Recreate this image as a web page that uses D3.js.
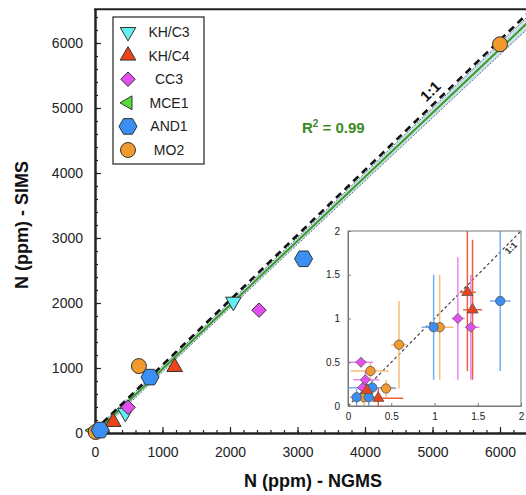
<!DOCTYPE html>
<html><head><meta charset="utf-8">
<script src="https://cdn.jsdelivr.net/npm/d3@7"></script>
<style>body{margin:0;background:#fff}svg{display:block;font-family:"Liberation Sans",Arial,sans-serif}</style>
</head><body>
<svg id="c" width="526" height="495"></svg>
<script>
// ---- data ----
const seriesNames = ["KH/C3", "KH/C4", "CC3", "MCE1", "AND1", "MO2"];
const seriesColors = ["#62eef2", "#ec4319", "#e44ff0", "#5add37", "#3b8ef2", "#f29a2e"];
const seriesShapes = ["triDown", "triUp", "diamond", "triLeft", "hexagon", "circle"];
// main chart points [NGMS, SIMS] in ppm
const khc3 = [[2050, 2020], [450, 310]];
const khc4 = [[1180, 1015], [270, 170]];
const cc3 = [[2430, 1890], [490, 395]];
const mce1 = [[-30, 40]];
const and1 = [[3090, 2680], [815, 860], [75, 45]];
const mo2 = [[6000, 5980], [650, 1030], [10, 15]];
const xTicks = [0, 1000, 2000, 3000, 4000, 5000, 6000];
const yTicks = [0, 1000, 2000, 3000, 4000, 5000, 6000];
const fitSlope = 0.985;
const bandParams = [1500, 45, 0.017]; // centre x, half-width at centre, growth
const r2Label = "0.99";
// inset points [x, y, xlo, xhi, ylo, yhi]
const and1Inset = [[1.76, 1.2, 1.64, 1.88, 0.4, 2.1], [0.99, 0.9, 0.85, 1.1, 0.3, 1.5], [0.28, 0.21, 0.0, 0.55, 0.12, 0.3], [0.1, 0.1, 0.03, 0.2, 0, 0.2], [0.24, 0.1, 0.15, 0.34, 0, 0.2]];
const mo2Inset = [[1.06, 0.9, 0.95, 1.22, 0.3, 1.5], [0.59, 0.7, 0.5, 0.68, 0.2, 1.2], [0.26, 0.4, 0.03, 0.47, 0.3, 0.5], [0.44, 0.2, 0.33, 0.56, 0.1, 0.3], [0.185, 0.1, 0.02, 0.36, 0, 0.2]];
const cc3Inset = [[1.27, 1.0, 1.2, 1.35, 0.3, 1.7], [1.42, 0.9, 1.35, 1.52, 0.3, 1.5], [0.15, 0.5, 0.0, 0.29, 0.45, 0.55], [0.2, 0.3, 0.06, 0.36, 0.2, 0.4], [0.17, 0.21, 0.1, 0.25, 0.1, 0.3]];
const khc4Inset = [[1.38, 1.3, 1.29, 1.48, 0.4, 2.1], [1.44, 1.1, 1.33, 1.55, 0.3, 1.9], [0.35, 0.09, 0.27, 0.64, 0, 0.2], [0.22, 0.18, 0.15, 0.28, 0.1, 0.25]];
const insetTicks = [0, 0.5, 1, 1.5, 2];

// ---- drawing ----
const svg = d3.select("#c");
const colorOf = d3.scaleOrdinal(seriesNames, seriesColors);
const shapeOf = d3.scaleOrdinal(seriesNames, seriesShapes);
function shapePath(shape, r) {
  const p = d3.path();
  const poly = pts => { pts.forEach((q, i) => i ? p.lineTo(q[0], q[1]) : p.moveTo(q[0], q[1])); p.closePath(); };
  const s = Math.sqrt(3) / 2;
  if (shape === "circle") { p.arc(0, 0, r * 0.88, 0, 2 * Math.PI); }
  else if (shape === "triUp") poly([[0, -r], [r * s, r * 0.5], [-r * s, r * 0.5]]);
  else if (shape === "triDown") poly([[0, r], [r * s, -r * 0.5], [-r * s, -r * 0.5]]);
  else if (shape === "triLeft") poly([[-r, 0], [r * 0.5, -r * s], [r * 0.5, r * s]]);
  else if (shape === "diamond") poly([[0, -r * 0.85], [r * 0.85, 0], [0, r * 0.85], [-r * 0.85, 0]]);
  else if (shape === "hexagon") poly(d3.range(6).map(i => [r * Math.cos(i * Math.PI / 3), r * Math.sin(i * Math.PI / 3)]));
  return p.toString();
}

const x = d3.scaleLinear().domain([0, 6450]).range([95, 95 + 6.45 * 67.5]);
const y = d3.scaleLinear().domain([0, 6520]).range([433, 433 - 6.52 * 65]);

svg.append("defs").append("clipPath").attr("id", "plotclip").append("rect")
  .attr("x", x(0)).attr("y", y(6520)).attr("width", x(6450) - x(0)).attr("height", y(0) - y(6520));

// confidence band
const bx = d3.range(0, 6700, 100);
const half = d => Math.sqrt(bandParams[1] ** 2 + (bandParams[2] * (d - bandParams[0])) ** 2);
const gPlot = svg.append("g").attr("clip-path", "url(#plotclip)");
gPlot.append("path").datum(bx)
  .attr("d", d3.area().x(d => x(d)).y0(d => y(fitSlope * d - half(d))).y1(d => y(fitSlope * d + half(d))))
  .attr("fill", "#c9e2ec");
[1, -1].forEach(sg => gPlot.append("path").datum(bx)
  .attr("d", d3.line().x(d => x(d)).y(d => y(fitSlope * d + sg * half(d))))
  .attr("fill", "none").attr("stroke", "#34405e").attr("stroke-width", 0.8).attr("stroke-dasharray", "2,1.5"));
gPlot.append("line").attr("x1", x(0)).attr("y1", y(0)).attr("x2", x(6700)).attr("y2", y(fitSlope * 6700))
  .attr("stroke", "#3c9a25").attr("stroke-width", 2);
gPlot.append("line").attr("x1", x(0)).attr("y1", y(0)).attr("x2", x(6700)).attr("y2", y(6700))
  .attr("stroke", "#111").attr("stroke-width", 2.6).attr("stroke-dasharray", "7,5").attr("transform", "translate(-1,-2)");

// axes
const xMinor = d3.range(0, 6450, 200);
const yMinor = d3.range(0, 6520, 200);
const gx = svg.append("g").attr("transform", `translate(0,${y(0)})`);
gx.call(d3.axisBottom(x).tickValues(xMinor).tickSizeInner(-3).tickSizeOuter(0).tickFormat(""));
gx.call(g => g.append("g").call(d3.axisBottom(x).tickValues(xTicks).tickSizeInner(-6).tickSizeOuter(0).tickPadding(14).tickFormat(d3.format("d"))));
const gy = svg.append("g").attr("transform", `translate(${x(0)},0)`);
gy.call(d3.axisLeft(y).tickValues(yMinor).tickSizeInner(-3).tickSizeOuter(0).tickFormat(""));
gy.call(g => g.append("g").call(d3.axisLeft(y).tickValues(yTicks).tickSizeInner(-6).tickSizeOuter(0).tickPadding(12).tickFormat(d3.format("d"))));
svg.selectAll(".domain").attr("stroke", "#222").attr("stroke-width", 2);
svg.selectAll(".tick line").attr("stroke", "#222").attr("stroke-width", 1.2);
svg.selectAll(".tick text").attr("font-size", 14).attr("fill", "#222").attr("font-family", "Liberation Sans, Arial, sans-serif");
svg.append("line").attr("x1", x(0) - 1).attr("x2", 526).attr("y1", y(6520)).attr("y2", y(6520)).attr("stroke", "#222").attr("stroke-width", 2);

// titles
svg.append("text").attr("x", 313).attr("y", 487).attr("text-anchor", "middle")
  .attr("font-size", 18).attr("font-weight", "bold").attr("fill", "#111").text("N (ppm) - NGMS");
svg.append("text").attr("transform", "translate(28,225) rotate(-90)").attr("text-anchor", "middle")
  .attr("font-size", 18).attr("font-weight", "bold").attr("fill", "#111").text("N (ppm) - SIMS");

// labels on lines
svg.append("text").attr("transform", "translate(434,95) rotate(-44)").attr("text-anchor", "middle")
  .attr("font-size", 15).attr("font-weight", "bold").attr("fill", "#111").text("1:1");
const r2 = svg.append("text").attr("x", 302).attr("y", 133).attr("font-size", 15).attr("font-weight", "bold").attr("fill", "#3c8a1f");
r2.append("tspan").text("R");
r2.append("tspan").attr("font-size", 10).attr("dy", -6).text("2");
r2.append("tspan").attr("dy", 6).text(" = " + r2Label);

// main points
const mainSets = [[khc3, "KH/C3"], [khc4, "KH/C4"], [cc3, "CC3"], [mce1, "MCE1"], [mo2, "MO2"], [and1, "AND1"]];
const mainR = {"circle": 8.5, "triUp": 9, "triDown": 9, "triLeft": 8, "diamond": 8.5, "hexagon": 9};
mainSets.forEach(([data, name]) => {
  svg.append("g").selectAll("path").data(data).join("path")
    .attr("transform", d => `translate(${x(d[0])},${y(d[1])})`)
    .attr("d", shapePath(shapeOf(name), mainR[shapeOf(name)]))
    .attr("fill", colorOf(name)).attr("stroke", "#333").attr("stroke-width", 1);
});

// legend
const lg = svg.append("g");
lg.append("rect").attr("x", 113).attr("y", 17).attr("width", 91).attr("height", 147)
  .attr("fill", "#fff").attr("stroke", "#333").attr("stroke-width", 1.3);
const ly = d3.scalePoint().domain(seriesNames).range([32, 150]);
seriesNames.forEach(n => {
  lg.append("path").attr("transform", `translate(128,${ly(n)})`).attr("d", shapePath(shapeOf(n), mainR[shapeOf(n)]))
    .attr("fill", colorOf(n)).attr("stroke", "#333").attr("stroke-width", 1);
  lg.append("text").attr("x", 169).attr("y", ly(n) + 5).attr("text-anchor", "middle")
    .attr("font-size", 14).attr("fill", "#222").text(n);
});

// inset
const ix = d3.scaleLinear().domain([0, 2]).range([348, 521]);
const iy = d3.scaleLinear().domain([0, 2]).range([406, 231]);
const ig = svg.append("g");
ig.append("rect").attr("x", ix(0)).attr("y", iy(2)).attr("width", ix(2) - ix(0)).attr("height", iy(0) - iy(2)).attr("fill", "#fff");
svg.select("defs").append("clipPath").attr("id", "insetclip").append("rect")
  .attr("x", ix(0)).attr("y", iy(2)).attr("width", ix(2) - ix(0)).attr("height", iy(0) - iy(2));
const gi = ig.append("g").attr("clip-path", "url(#insetclip)");
gi.append("line").attr("x1", ix(0)).attr("y1", iy(0)).attr("x2", ix(2)).attr("y2", iy(2))
  .attr("stroke", "#444").attr("stroke-width", 1.2).attr("stroke-dasharray", "3,2.5");
const insetSets = [[mo2Inset, "MO2", "#f8bd78"], [and1Inset, "AND1", "#74aef4"], [cc3Inset, "CC3", "#ee84f0"], [khc4Inset, "KH/C4", "#f06040"]];
insetSets.forEach(([data, name, ec]) => {
  const g = gi.append("g");
  g.selectAll(".v").data(data).join("line").attr("x1", d => ix(d[0])).attr("x2", d => ix(d[0]))
    .attr("y1", d => iy(d[4])).attr("y2", d => iy(d[5])).attr("stroke", ec).attr("stroke-width", 1.5);
  g.selectAll(".h").data(data).join("line").attr("y1", d => iy(d[1])).attr("y2", d => iy(d[1]))
    .attr("x1", d => ix(d[2])).attr("x2", d => ix(d[3])).attr("stroke", ec).attr("stroke-width", 1.5);
});
const insetR = {"circle": 5.3, "triUp": 6.5, "diamond": 6, "hexagon": 5};
insetSets.forEach(([data, name]) => {
  gi.append("g").selectAll("path").data(data).join("path")
    .attr("transform", d => `translate(${ix(d[0])},${iy(d[1])})`)
    .attr("d", shapePath(shapeOf(name) === "hexagon" ? "circle" : shapeOf(name), shapeOf(name) === "hexagon" ? 5.3 : insetR[shapeOf(name)]))
    .attr("fill", colorOf(name)).attr("stroke", "#555").attr("stroke-width", 0.8);
});
ig.append("rect").attr("x", ix(0)).attr("y", iy(2)).attr("width", ix(2) - ix(0)).attr("height", iy(0) - iy(2))
  .attr("fill", "none").attr("stroke", "#777").attr("stroke-width", 1);
const ixa = ig.append("g").attr("transform", `translate(0,${iy(0)})`)
  .call(d3.axisBottom(ix).tickValues(insetTicks).tickSizeInner(-3).tickSizeOuter(0).tickPadding(7).tickFormat(d => d));
const iya = ig.append("g").attr("transform", `translate(${ix(0)},0)`)
  .call(d3.axisLeft(iy).tickValues(insetTicks).tickSizeInner(-3).tickSizeOuter(0).tickPadding(8).tickFormat(d => d));
[ixa, iya].forEach(a => {
  a.select(".domain").attr("stroke", "#777").attr("stroke-width", 1);
  a.selectAll(".tick line").attr("stroke", "#777");
  a.selectAll(".tick text").attr("font-size", 10).attr("fill", "#222");
});
ig.append("text").attr("transform", `translate(${ix(1.91)},${iy(1.78)}) rotate(-45)`).attr("text-anchor", "middle")
  .attr("font-size", 9).attr("font-weight", "bold").attr("fill", "#333").text("1:1");
</script>
</body></html>
